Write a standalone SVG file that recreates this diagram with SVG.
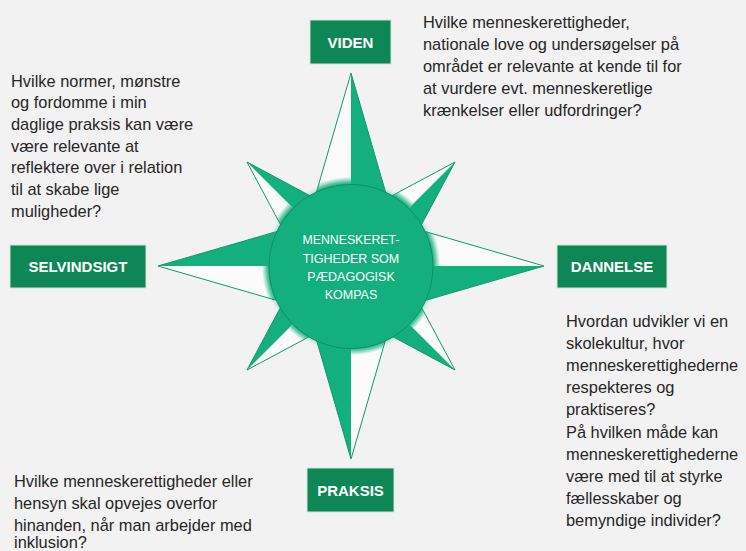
<svg xmlns="http://www.w3.org/2000/svg" width="746" height="551" viewBox="0 0 746 551">
<defs>
<style>
.bg{fill:#f2f2f2}
.g{fill:#13b07d}
.w{fill:url(#wg)}
.ol{fill:none;stroke:#12996a;stroke-width:1;stroke-linejoin:miter}
.box{fill:#0f8656;stroke:#d3e4da;stroke-width:1}
.lbl{font-family:"Liberation Sans",Arial,sans-serif;font-weight:bold;font-size:15px;fill:#ffffff;text-anchor:middle}
.txt{font-family:"Liberation Sans",Arial,sans-serif;font-size:16.4px;fill:#262626}
.ctr{font-family:"Liberation Sans",Arial,sans-serif;font-size:12.5px;fill:#ffffff;text-anchor:middle}
</style>
<radialGradient id="wg" gradientUnits="userSpaceOnUse" cx="351" cy="266" r="194">
<stop offset="0" stop-color="#13b07d"/>
<stop offset="0.42" stop-color="#13b07d"/>
<stop offset="0.46" stop-color="#fbfbfb"/>
<stop offset="1" stop-color="#fbfbfb"/>
</radialGradient>
<filter id="glow" x="-30%" y="-30%" width="160%" height="160%">
<feGaussianBlur stdDeviation="2"/>
</filter>
</defs>
<rect class="bg" x="0" y="0" width="746" height="551"/>

<g id="compass">
<g id="arm-ne">
<polygon class="w" points="455,162 351,266 319.5,234.5"/>
<polygon class="g" points="455,162 351,266 382.5,297.5"/>
<polygon class="ol" points="455,162 382.5,297.5 319.5,234.5"/>
</g>
<g id="arm-se">
<polygon class="w" points="455,370 351,266 382.5,234.5"/>
<polygon class="g" points="455,370 351,266 319.5,297.5"/>
<polygon class="ol" points="455,370 382.5,234.5 319.5,297.5"/>
</g>
<g id="arm-sw">
<polygon class="w" points="247,370 351,266 382.5,297.5"/>
<polygon class="g" points="247,370 351,266 319.5,234.5"/>
<polygon class="ol" points="247,370 382.5,297.5 319.5,234.5"/>
</g>
<g id="arm-nw">
<polygon class="w" points="247,162 351,266 319.5,297.5"/>
<polygon class="g" points="247,162 351,266 382.5,234.5"/>
<polygon class="ol" points="247,162 319.5,297.5 382.5,234.5"/>
</g>
<g id="arm-n">
<polygon class="w" points="351,73 351,266 295,266"/>
<polygon class="g" points="351,73 351,266 407,266"/>
<polygon class="ol" points="351,73 407,266 295,266"/>
</g>
<g id="arm-e">
<polygon class="w" points="544,266 351,266 351,210"/>
<polygon class="g" points="544,266 351,266 351,322"/>
<polygon class="ol" points="544,266 351,322 351,210"/>
</g>
<g id="arm-s">
<polygon class="w" points="351,459 351,266 407,266"/>
<polygon class="g" points="351,459 351,266 295,266"/>
<polygon class="ol" points="351,459 295,266 407,266"/>
</g>
<g id="arm-w">
<polygon class="w" points="158,266 351,266 351,322"/>
<polygon class="g" points="158,266 351,266 351,210"/>
<polygon class="ol" points="158,266 351,210 351,322"/>
</g>
<circle cx="351" cy="266.5" r="83" fill="#13b07d" opacity="0.5" filter="url(#glow)"/>
<circle cx="351" cy="266.5" r="82" fill="#13b07d" stroke="#0f8f62" stroke-width="1"/>
<text class="ctr" x="351" y="244" textLength="97" lengthAdjust="spacingAndGlyphs">MENNESKERET-</text>
<text class="ctr" x="351" y="262.5">TIGHEDER SOM</text>
<text class="ctr" x="351" y="280.5">PÆDAGOGISK</text>
<text class="ctr" x="351" y="299">KOMPAS</text>
</g>

<g id="viden">
<rect class="box" x="310" y="20" width="81" height="44"/>
<text class="lbl" x="350.5" y="47.5">VIDEN</text>
</g>
<g id="selvindsigt">
<rect class="box" x="10" y="245" width="136" height="43"/>
<text class="lbl" x="78" y="272">SELVINDSIGT</text>
</g>
<g id="dannelse">
<rect class="box" x="557" y="245" width="110" height="43"/>
<text class="lbl" x="612" y="272">DANNELSE</text>
</g>
<g id="praksis">
<rect class="box" x="307" y="468" width="87" height="44"/>
<text class="lbl" x="350.5" y="495.5">PRAKSIS</text>
</g>

<g id="text-viden">
<text class="txt" x="423" y="28">Hvilke menneskerettigheder,</text>
<text class="txt" x="423" y="50">nationale love og undersøgelser på</text>
<text class="txt" x="423" y="72">området er relevante at kende til for</text>
<text class="txt" x="423" y="94">at vurdere evt. menneskeretlige</text>
<text class="txt" x="423" y="116">krænkelser eller udfordringer?</text>
</g>
<g id="text-selvindsigt">
<text class="txt" x="11" y="86.5">Hvilke normer, mønstre</text>
<text class="txt" x="11" y="108.2">og fordomme i min</text>
<text class="txt" x="11" y="129.9">daglige praksis kan være</text>
<text class="txt" x="11" y="151.6">være relevante at</text>
<text class="txt" x="11" y="173.3">reflektere over i relation</text>
<text class="txt" x="11" y="195">til at skabe lige</text>
<text class="txt" x="11" y="216.7">muligheder?</text>
</g>
<g id="text-dannelse">
<text class="txt" x="566" y="326.5">Hvordan udvikler vi en</text>
<text class="txt" x="566" y="348.7">skolekultur, hvor</text>
<text class="txt" x="566" y="370.9">menneskerettighederne</text>
<text class="txt" x="566" y="393.1">respekteres og</text>
<text class="txt" x="566" y="415.3">praktiseres?</text>
<text class="txt" x="566" y="437.5">På hvilken måde kan</text>
<text class="txt" x="566" y="459.7">menneskerettighederne</text>
<text class="txt" x="566" y="481.9">være med til at styrke</text>
<text class="txt" x="566" y="504.1">fællesskaber og</text>
<text class="txt" x="566" y="526.3">bemyndige individer?</text>
</g>
<g id="text-praksis">
<text class="txt" x="14" y="486.5">Hvilke menneskerettigheder eller</text>
<text class="txt" x="14" y="508.5">hensyn skal opvejes overfor</text>
<text class="txt" x="14" y="530.5">hinanden, når man arbejder med</text>
<text class="txt" x="14" y="548">inklusion?</text>
</g>

<g id="connectors"/>
</svg>
